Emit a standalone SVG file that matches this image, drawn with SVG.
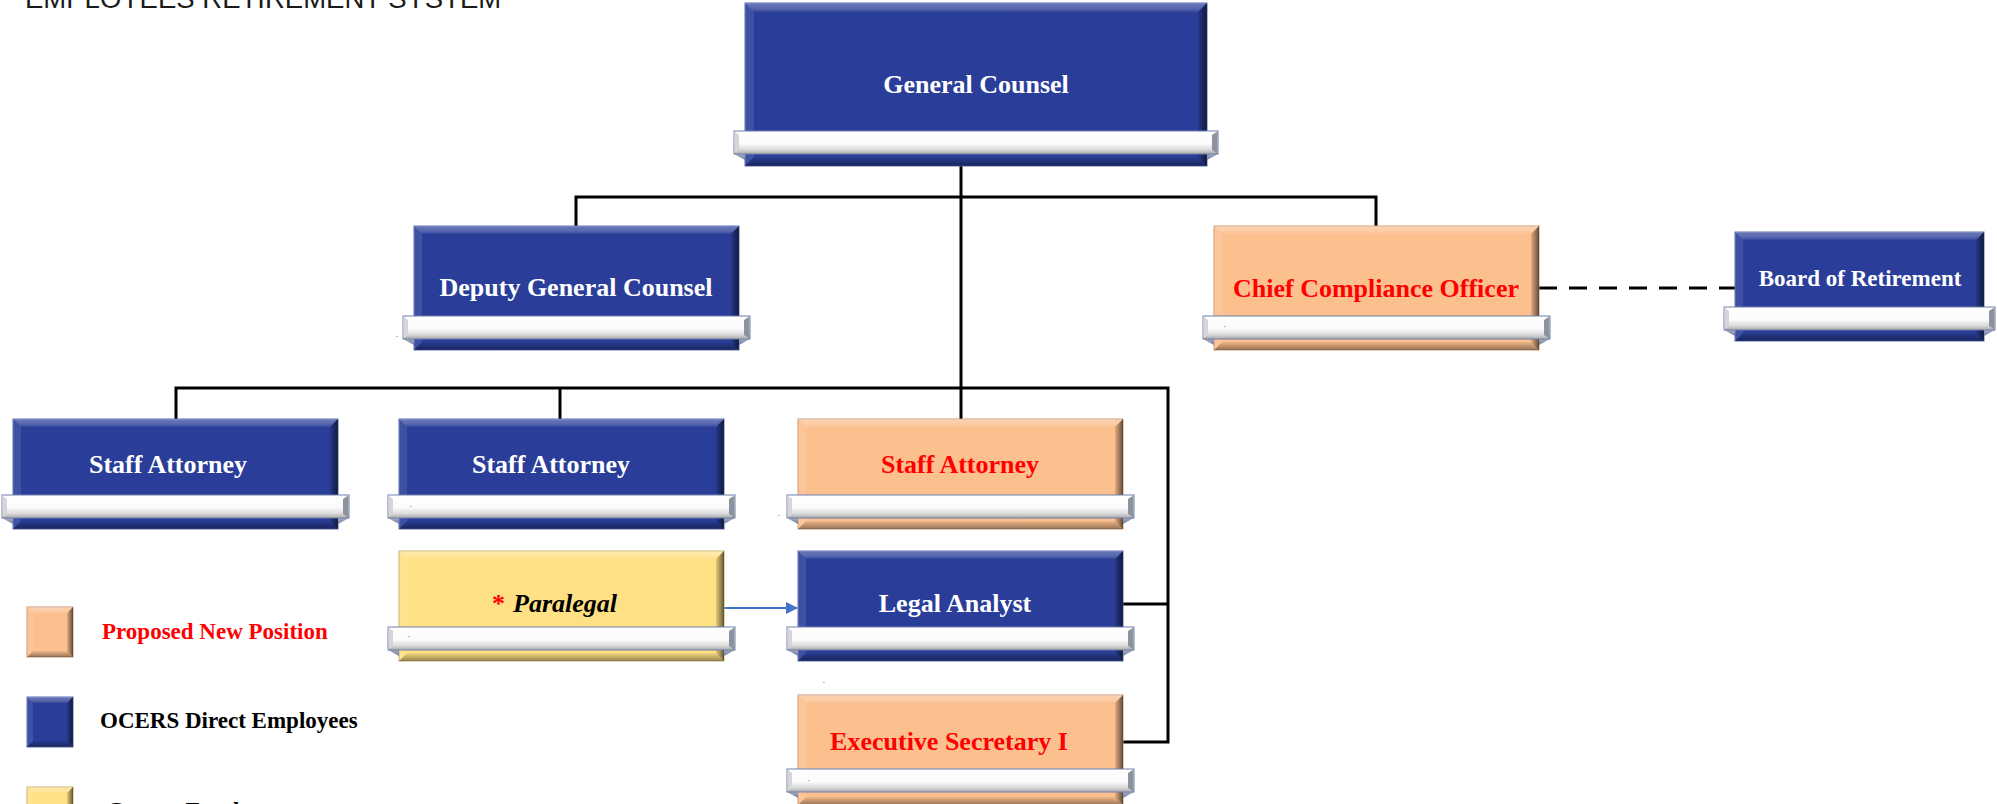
<svg xmlns="http://www.w3.org/2000/svg" width="1997" height="804" viewBox="0 0 1997 804">
  <style>
    .t { font-family: "Liberation Serif", "Times New Roman", serif; font-weight: bold; text-anchor: middle; }
    .w { fill: #ffffff; }
    .r { fill: #ff0000; }
    .k { fill: #000000; }
    .blue { fill: #2a3e99; stroke: #5a6fb4; stroke-width: 1; }
    .orange { fill: #fcbf8e; stroke: #c99a78; stroke-width: 1; }
    .yellow { fill: #ffe085; stroke: #c8b070; stroke-width: 1; }
    .line { fill: none; stroke: #000000; stroke-width: 3; }
    .dash { fill: none; stroke: #000000; stroke-width: 3; stroke-dasharray: 18 12; }
    .link { fill: none; stroke: #4472c4; stroke-width: 2; }
    .dot { font-family: "Liberation Serif", serif; font-size: 7px; fill: #000; }
    .legend { font-family: "Liberation Serif", "Times New Roman", serif; font-weight: bold; font-size: 23px; }
  </style>
  <defs>
    <linearGradient id="barFill" x1="0" y1="0" x2="0" y2="1">
      <stop offset="0" stop-color="#ffffff"/>
      <stop offset="0.55" stop-color="#fbfbfb"/>
      <stop offset="0.8" stop-color="#dcdcdc"/>
      <stop offset="1" stop-color="#a9a9a9"/>
    </linearGradient>
    <linearGradient id="shadeR" x1="0" y1="0" x2="1" y2="0">
      <stop offset="0" stop-color="#000" stop-opacity="0.1"/>
      <stop offset="1" stop-color="#000" stop-opacity="0.6"/>
    </linearGradient>
    <linearGradient id="shadeB" x1="0" y1="0" x2="0" y2="1">
      <stop offset="0" stop-color="#000" stop-opacity="0.05"/>
      <stop offset="1" stop-color="#000" stop-opacity="0.4"/>
    </linearGradient>
    <linearGradient id="lightT" x1="0" y1="0" x2="0" y2="1">
      <stop offset="0" stop-color="#fff" stop-opacity="0.3"/>
      <stop offset="0.6" stop-color="#fff" stop-opacity="0.22"/>
      <stop offset="1" stop-color="#fff" stop-opacity="0.05"/>
    </linearGradient>
    <linearGradient id="wedge" x1="0" y1="0" x2="0" y2="1">
      <stop offset="0" stop-color="#a5acbd"/>
      <stop offset="1" stop-color="#6f7ea6"/>
    </linearGradient>
    <marker id="arrowBlue" viewBox="0 0 12 12" refX="11" refY="6" markerWidth="12" markerHeight="12" markerUnits="userSpaceOnUse" orient="auto">
      <path d="M0,0 L12,6 L0,12 z" fill="#4472c4"/>
    </marker>

    <!-- bevel overlays, one per box size -->
    <g id="bev325x110">
      <polygon points="0,0 325,0 317,8 8,8" fill="url(#lightT)"/>
      <polygon points="0,0 8,8 8,102 0,110" fill="#fff" fill-opacity="0.1"/>
      <polygon points="325,0 325,110 317,102 317,8" fill="url(#shadeR)"/>
      <polygon points="0,110 325,110 317,102 8,102" fill="url(#shadeB)"/>
    </g>
    <g id="bev325x124">
      <polygon points="0,0 325,0 317,8 8,8" fill="url(#lightT)"/>
      <polygon points="0,0 8,8 8,116 0,124" fill="#fff" fill-opacity="0.1"/>
      <polygon points="325,0 325,124 317,116 317,8" fill="url(#shadeR)"/>
      <polygon points="0,124 325,124 317,116 8,116" fill="url(#shadeB)"/>
    </g>
    <g id="bev462x163">
      <polygon points="0,0 462,0 453,9 9,9" fill="url(#lightT)"/>
      <polygon points="0,0 9,9 9,154 0,163" fill="#fff" fill-opacity="0.1"/>
      <polygon points="462,0 462,163 453,154 453,9" fill="url(#shadeR)"/>
      <polygon points="0,163 462,163 453,154 9,154" fill="url(#shadeB)"/>
    </g>
    <g id="bev249x109">
      <polygon points="0,0 249,0 241,8 8,8" fill="url(#lightT)"/>
      <polygon points="0,0 8,8 8,101 0,109" fill="#fff" fill-opacity="0.1"/>
      <polygon points="249,0 249,109 241,101 241,8" fill="url(#shadeR)"/>
      <polygon points="0,109 249,109 241,101 8,101" fill="url(#shadeB)"/>
    </g>
    <g id="bev46x50">
      <polygon points="0,0 46,0 40,6 6,6" fill="url(#lightT)"/>
      <polygon points="0,0 6,6 6,44 0,50" fill="#fff" fill-opacity="0.1"/>
      <polygon points="46,0 46,50 40,44 40,6" fill="url(#shadeR)"/>
      <polygon points="0,50 46,50 40,44 6,44" fill="url(#shadeB)"/>
    </g>

    <!-- white name bars laid across the lower part of each box -->
    <g id="bar325">
      <polygon points="-11,23 0,23 0,29" fill="url(#wedge)"/>
      <polygon points="336,23 325,23 325,29" fill="url(#wedge)"/>
      <rect x="-11" y="0" width="347" height="23" fill="url(#barFill)" stroke="#6f80ad" stroke-width="1"/>
      <polygon points="-10.5,0.5 -6,4 -6,19 -10.5,22.5" fill="#d6d6d6"/>
      <polygon points="335.5,0.5 330,4 330,19 335.5,22.5" fill="#8d929c"/>
    </g>
    <g id="bar462">
      <polygon points="-11,23 0,23 0,29" fill="url(#wedge)"/>
      <polygon points="473,23 462,23 462,29" fill="url(#wedge)"/>
      <rect x="-11" y="0" width="484" height="23" fill="url(#barFill)" stroke="#6f80ad" stroke-width="1"/>
      <polygon points="-10.5,0.5 -6,4 -6,19 -10.5,22.5" fill="#d6d6d6"/>
      <polygon points="472.5,0.5 467,4 467,19 472.5,22.5" fill="#8d929c"/>
    </g>
    <g id="bar249">
      <polygon points="-11,23 0,23 0,29" fill="url(#wedge)"/>
      <polygon points="260,23 249,23 249,29" fill="url(#wedge)"/>
      <rect x="-11" y="0" width="271" height="23" fill="url(#barFill)" stroke="#6f80ad" stroke-width="1"/>
      <polygon points="-10.5,0.5 -6,4 -6,19 -10.5,22.5" fill="#d6d6d6"/>
      <polygon points="259.5,0.5 254,4 254,19 259.5,22.5" fill="#8d929c"/>
    </g>
  </defs>

  <rect width="1997" height="804" fill="#ffffff"/>

  <!-- page heading, partly above the top edge -->
  <text x="25" y="8" font-family="Liberation Sans, Arial, sans-serif" font-size="27.5" fill="#1a1a1a">EMPLOYEES RETIREMENT SYSTEM</text>

  <!-- reporting lines -->
  <g id="connectors">
    <polyline class="line" points="961,166 961,419"/>
    <polyline class="line" points="576,226 576,197 1376,197 1376,226"/>
    <polyline class="line" points="176,419 176,388 1168,388 1168,742 1123,742"/>
    <polyline class="line" points="560,388 560,419"/>
    <polyline class="line" points="1123,604 1168,604"/>
    <line class="dash" x1="1539" y1="288" x2="1735" y2="288"/>
    <line class="link" x1="723" y1="608" x2="797" y2="608" marker-end="url(#arrowBlue)"/>
  </g>

  <g id="general-counsel" transform="translate(745,3)">
    <rect class="blue" width="462" height="163"/>
    <use href="#bev462x163"/>
    <use href="#bar462" y="128"/>
    <text class="t w" x="231" y="90" font-size="26">General Counsel</text>
  </g>

  <g id="deputy-general-counsel" transform="translate(414,226)">
    <rect class="blue" width="325" height="124"/>
    <use href="#bev325x124"/>
    <use href="#bar325" y="90"/>
    <text class="t w" x="162" y="70" font-size="26">Deputy General Counsel</text>
    <text class="dot" x="-18" y="111">.</text>
  </g>

  <g id="chief-compliance-officer" transform="translate(1214,226)">
    <rect class="orange" width="325" height="124"/>
    <use href="#bev325x124"/>
    <use href="#bar325" y="90"/>
    <text class="t r" x="162" y="71" font-size="26">Chief Compliance Officer</text>
    <text class="dot" x="10" y="101">.</text>
  </g>

  <g id="board-of-retirement" transform="translate(1735,232)">
    <rect class="blue" width="249" height="109"/>
    <use href="#bev249x109"/>
    <use href="#bar249" y="75"/>
    <text class="t w" x="125" y="54" font-size="23">Board of Retirement</text>
  </g>

  <g id="staff-attorney-1" transform="translate(13,419)">
    <rect class="blue" width="325" height="110"/>
    <use href="#bev325x110"/>
    <use href="#bar325" y="76"/>
    <text class="t w" x="155" y="54" font-size="26">Staff Attorney</text>
  </g>

  <g id="staff-attorney-2" transform="translate(399,419)">
    <rect class="blue" width="325" height="110"/>
    <use href="#bev325x110"/>
    <use href="#bar325" y="76"/>
    <text class="t w" x="152" y="54" font-size="26">Staff Attorney</text>
    <text class="dot" x="11" y="88">.</text>
  </g>

  <g id="staff-attorney-3" transform="translate(798,419)">
    <rect class="orange" width="325" height="110"/>
    <use href="#bev325x110"/>
    <use href="#bar325" y="76"/>
    <text class="t r" x="162" y="54" font-size="26">Staff Attorney</text>
    <text class="dot" x="-20" y="97">.</text>
  </g>

  <g id="paralegal" transform="translate(399,551)">
    <rect class="yellow" width="325" height="110"/>
    <use href="#bev325x110"/>
    <use href="#bar325" y="76"/>
    <text font-family="Liberation Serif, Times New Roman, serif" font-weight="bold" font-size="26" y="61"><tspan x="93" fill="#ff0000">*</tspan><tspan x="114" fill="#000" font-style="italic">Paralegal</tspan></text>
    <text class="dot" x="9" y="86">.</text>
  </g>

  <g id="legal-analyst" transform="translate(798,551)">
    <rect class="blue" width="325" height="110"/>
    <use href="#bev325x110"/>
    <use href="#bar325" y="76"/>
    <text class="t w" x="157" y="61" font-size="26">Legal Analyst</text>
    <text class="dot" x="25" y="132">.</text>
  </g>

  <g id="executive-secretary" transform="translate(798,695)">
    <rect class="orange" width="325" height="110"/>
    <use href="#bev325x110"/>
    <use href="#bar325" y="74"/>
    <text class="t r" x="151" y="55" font-size="26">Executive Secretary I</text>
    <text class="dot" x="10" y="86">.</text>
  </g>

  <!-- key -->
  <g id="legend">
    <g id="legend-proposed" transform="translate(27,607)">
      <rect class="orange" width="46" height="50"/>
      <use href="#bev46x50"/>
      <text class="legend r" x="75" y="32">Proposed New Position</text>
    </g>
    <g id="legend-direct" transform="translate(27,697)">
      <rect class="blue" width="46" height="50"/>
      <use href="#bev46x50"/>
      <text class="legend k" x="73" y="31">OCERS Direct Employees</text>
    </g>
    <g id="legend-county" transform="translate(27,787)">
      <rect class="yellow" width="46" height="50"/>
      <use href="#bev46x50"/>
      <text class="legend k" x="80" y="31">County Employees</text>
    </g>
  </g>
</svg>
